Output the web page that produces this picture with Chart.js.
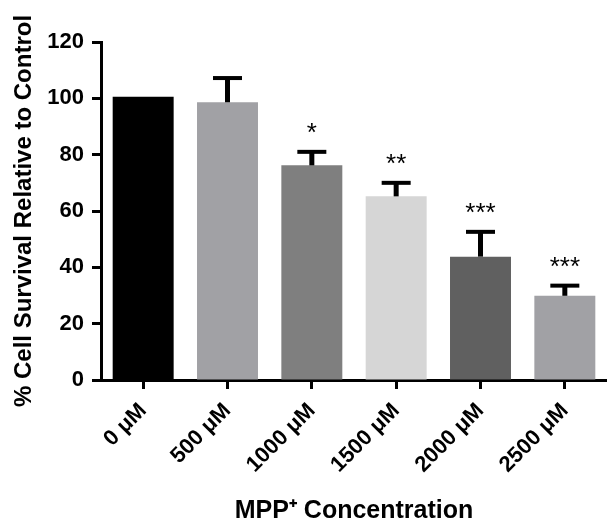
<!DOCTYPE html>
<html>
<head>
<meta charset="utf-8">
<script src="https://cdn.jsdelivr.net/npm/chart.js@4/dist/chart.umd.min.js"></script>
<style>
  html, body { margin: 0; padding: 0; background: #fff; }
  #wrap { width: 607px; height: 527px; position: relative; }
</style>
</head>
<body>
<div id="wrap"><canvas id="c"></canvas></div>
<script>
const categories = ["0 \u03BCM", "500 \u03BCM", "1000 \u03BCM", "1500 \u03BCM", "2000 \u03BCM", "2500 \u03BCM"];
const survival = [100.6, 98.6, 76.2, 65.2, 43.8, 29.9];
const errorUp = [0, 8.6, 4.8, 4.8, 8.8, 3.6];
const significance = ["", "", "*", "**", "***", "***"];
const barColors = ["#000000", "#a1a1a5", "#7f7f7f", "#d6d6d6", "#606060", "#a1a1a5"];
const yTicks = [0, 20, 40, 60, 80, 100, 120];

const FONT = "'Liberation Sans', Arial, Helvetica, sans-serif";

const errorBarPlugin = {
  id: 'errorBars',
  afterDatasetsDraw(chart) {
    const ctx = chart.ctx;
    const x = chart.scales.x, y = chart.scales.y;
    ctx.save();
    ctx.strokeStyle = '#000';
    ctx.fillStyle = '#000';
    survival.forEach((v, i) => {
      const px = x.getPixelForValue(i);
      const top = y.getPixelForValue(v + errorUp[i]);
      const base = y.getPixelForValue(v);
      if (errorUp[i] > 0) {
        ctx.lineWidth = 5;
        ctx.beginPath();
        ctx.moveTo(px, base);
        ctx.lineTo(px, top);
        ctx.stroke();
        ctx.lineWidth = 4;
        ctx.beginPath();
        ctx.moveTo(px - 14.5, top);
        ctx.lineTo(px + 14.5, top);
        ctx.stroke();
      }
      if (significance[i]) {
        ctx.font = "26px " + FONT;
        ctx.textAlign = 'center';
        ctx.textBaseline = 'alphabetic';
        ctx.fillText(significance[i], px, top - 26 + 15);
      }
    });
    ctx.restore();
  }
};

new Chart(document.getElementById('c'), {
  type: 'bar',
  data: {
    labels: categories,
    datasets: [{
      data: survival,
      backgroundColor: barColors,
      borderWidth: 0,
      barPercentage: 0.723,
      categoryPercentage: 1.0
    }]
  },
  options: {
    responsive: true,
    maintainAspectRatio: false,
    animation: false,
    devicePixelRatio: 1,
    layout: { padding: { top: 42, right: -2, bottom: 0, left: 0 } },
    plugins: { legend: { display: false }, tooltip: { enabled: false } },
    scales: {
      x: {
        grid: { display: true, offset: false, drawOnChartArea: false, drawTicks: true, tickLength: 9, tickWidth: 3, tickColor: '#000' },
        border: { display: true, color: '#000', width: 3 },
        ticks: { color: '#000', font: { family: FONT, size: 22, weight: 'bold' }, minRotation: 45, maxRotation: 45, padding: 9 },
        title: { display: true, text: 'MPP\u207A Concentration', color: '#000', font: { family: FONT, size: 25, weight: 'bold' }, padding: { top: 1, bottom: 1 } },
        afterFit(scale) { scale.height = 147; }
      },
      y: {
        min: 0, max: 120,
        afterBuildTicks(scale) { scale.ticks = yTicks.map(v => ({ value: v })); },
        grid: { display: true, drawOnChartArea: false, drawTicks: true, tickLength: 9, tickWidth: 3, tickColor: '#000' },
        border: { display: true, color: '#000', width: 3 },
        ticks: { color: '#000', font: { family: FONT, size: 22, weight: 'bold' }, padding: 8 },
        title: { display: true, text: '% Cell Survival Relative to Control', color: '#000', font: { family: FONT, size: 24, weight: 'bold' }, padding: { top: 10, bottom: 4 } },
        afterFit(scale) { scale.width = 101; }
      }
    }
  },
  plugins: [errorBarPlugin]
});
</script>
</body>
</html>
